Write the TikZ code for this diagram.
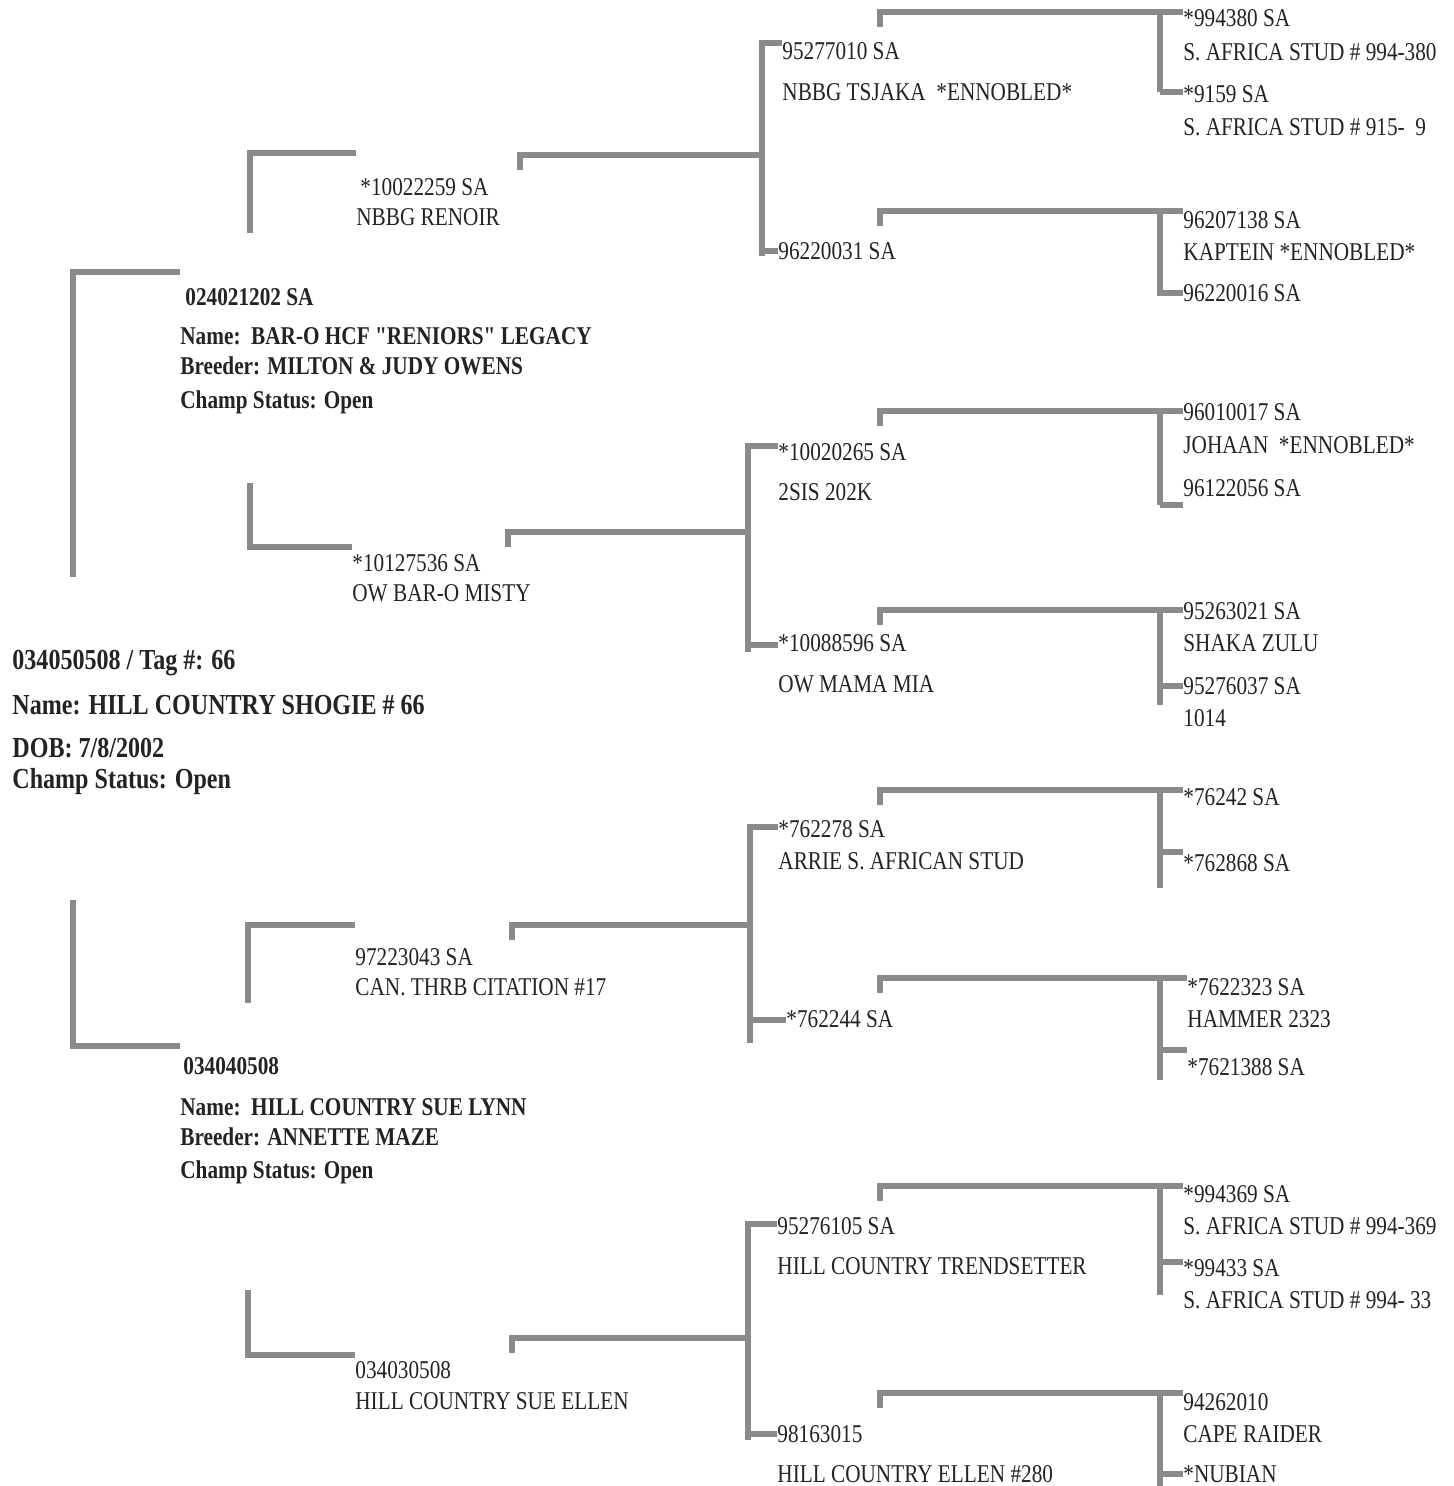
\documentclass[tikz,border=0pt]{standalone}
\usepackage{fontspec}
\setmainfont{Liberation Serif}[FakeStretch=0.83, Ligatures=TeXOff]
\usetikzlibrary{calc}

\definecolor{linegray}{RGB}{138,138,138}
\definecolor{inkgray}{RGB}{35,35,35}

\tikzset{
	line/.style={draw=linegray, line width=2.6pt},
	txt/.style={anchor=west, inner sep=0pt, text=inkgray, text height=8.5pt, text depth=0pt, font=\fontsize{12.8}{15}\selectfont},
	head/.style={txt, font=\fontsize{12.8}{15}\selectfont\bfseries},
	subj/.style={txt, text height=9.6pt, font=\fontsize{14.5}{17}\selectfont\bfseries}
}

\begin{document}
\begin{tikzpicture}[x=0.5pt, y=-0.5pt]

	\useasboundingbox (0,0) rectangle (1453,1486);

	% draw subject
	\node[subj] (s_id) at (12,660) {034050508 / Tag \#: 66};
	\node[subj] (s_name) at (12,705) {Name: HILL COUNTRY SHOGIE \# 66};
	\node[subj] (s_dob) at (12,748) {DOB: 7/8/2002};
	\node[subj] (s_champ) at (12,779) {Champ Status: Open};

	% draw sire and dam
	\node[head] (a_1) at (185,297) {024021202 SA};
	\node[head] (a_1n) at (180,336) {Name:\ \ BAR-O HCF "RENIORS" LEGACY};
	\node[head] (a_1b) at (180,366) {Breeder: MILTON \& JUDY OWENS};
	\node[head] (a_1c) at (180,400) {Champ Status: Open};
	\node[head] (a_2) at (183,1066) {034040508};
	\node[head] (a_2n) at (180,1107) {Name:\ \ HILL COUNTRY SUE LYNN};
	\node[head] (a_2b) at (180,1137) {Breeder: ANNETTE MAZE};
	\node[head] (a_2c) at (180,1170) {Champ Status: Open};

	\coordinate (k_1) at (73,272);
	\coordinate (k_1e) at (73,577);
	\coordinate (k_2) at (73,1046);
	\coordinate (k_2e) at (73,900);
	\draw[line] (k_1 -| a_1n.west) -- (k_1) -- (k_1e);
	\draw[line] (k_2e) -- (k_2) -- (k_2 -| a_2n.west);

	% draw grandparents
	\node[txt] (b_1) at (360,187) {*10022259 SA};
	\node[txt] (b_1n) at (356,217) {NBBG RENOIR};
	\node[txt] (b_2) at (352,563) {*10127536 SA};
	\node[txt] (b_2n) at (352,593) {OW BAR-O MISTY};
	\node[txt] (b_3) at (355,957) {97223043 SA};
	\node[txt] (b_3n) at (355,987) {CAN. THRB CITATION \#17};
	\node[txt] (b_4) at (355,1370) {034030508};
	\node[txt] (b_4n) at (355,1401) {HILL COUNTRY SUE ELLEN};

	\coordinate (m_1) at (250,153);
	\coordinate (m_1e) at (250,233);
	\coordinate (m_2) at (250,547);
	\coordinate (m_2e) at (250,483);
	\coordinate (m_3) at (248,925);
	\coordinate (m_3e) at (248,1003);
	\coordinate (m_4) at (248,1355);
	\coordinate (m_4e) at (248,1290);
	\draw[line] (m_1 -| b_1n.west) -- (m_1) -- (m_1e);
	\draw[line] (m_2e) -- (m_2) -- (m_2 -| b_2.west);
	\draw[line] (m_3 -| b_3.west) -- (m_3) -- (m_3e);
	\draw[line] (m_4e) -- (m_4) -- (m_4 -| b_4.west);

	% draw great-grandparents
	\node[txt] (c_1) at (782,51) {95277010 SA};
	\node[txt] (c_1n) at (782,92) {NBBG TSJAKA\ \ *ENNOBLED*};
	\node[txt] (c_2) at (778,251) {96220031 SA};
	\node[txt] (c_3) at (778,452) {*10020265 SA};
	\node[txt] (c_3n) at (778,492) {2SIS 202K};
	\node[txt] (c_4) at (778,643) {*10088596 SA};
	\node[txt] (c_4n) at (778,684) {OW MAMA MIA};
	\node[txt] (c_5) at (778,829) {*762278 SA};
	\node[txt] (c_5n) at (778,861) {ARRIE S. AFRICAN STUD};
	\node[txt] (c_6) at (786,1019) {*762244 SA};
	\node[txt] (c_7) at (777,1226) {95276105 SA};
	\node[txt] (c_7n) at (777,1266) {HILL COUNTRY TRENDSETTER};
	\node[txt] (c_8) at (777,1434) {98163015};
	\node[txt] (c_8n) at (777,1474) {HILL COUNTRY ELLEN \#280};

	\foreach \k/\hx/\yh/\vx/\yt/\yb/\ye in {1/520/155/762/43/251/256, 2/508/532/748/446/645/652, 3/512/925/750/827/1020/1043, 4/512/1338/748/1224/1434/1440}
	{
		\pgfmathtruncatemacro{\a}{2*\k-1}
		\pgfmathtruncatemacro{\b}{2*\k}
		\coordinate (n_\k) at (\hx,\yh);
		\coordinate (p_\k) at (\vx,\yh);
		\coordinate (pt_\k) at (\vx,\yt);
		\coordinate (pb_\k) at (\vx,\yb);
		\coordinate (pe_\k) at (\vx,\ye);
		\draw[line] (n_\k) ++(0,15) -- (n_\k) -- (p_\k);
		\draw[line] (pt_\k -| c_\a.west) -- (pt_\k) -- (pe_\k);
		\draw[line] (pb_\k) -- (pb_\k -| c_\b.west);
	}

	% draw outer column
	\node[txt] (f_1) at (1183,18) {*994380 SA};
	\node[txt] (f_1n) at (1183,52) {S. AFRICA STUD \# 994-380};
	\node[txt] (f_2) at (1183,94) {*9159 SA};
	\node[txt] (f_2n) at (1183,127) {S. AFRICA STUD \# 915-\ \ 9};
	\node[txt] (f_3) at (1183,220) {96207138 SA};
	\node[txt] (f_3n) at (1183,252) {KAPTEIN *ENNOBLED*};
	\node[txt] (f_4) at (1183,293) {96220016 SA};
	\node[txt] (f_5) at (1183,412) {96010017 SA};
	\node[txt] (f_5n) at (1183,445) {JOHAAN\ \ *ENNOBLED*};
	\node[txt] (f_6) at (1183,488) {96122056 SA};
	\node[txt] (f_7) at (1183,611) {95263021 SA};
	\node[txt] (f_7n) at (1183,643) {SHAKA ZULU};
	\node[txt] (f_8) at (1183,686) {95276037 SA};
	\node[txt] (f_8n) at (1183,718) {1014};
	\node[txt] (f_9) at (1183,797) {*76242 SA};
	\node[txt] (f_10) at (1183,863) {*762868 SA};
	\node[txt] (f_11) at (1187,987) {*7622323 SA};
	\node[txt] (f_11n) at (1187,1019) {HAMMER 2323};
	\node[txt] (f_12) at (1187,1067) {*7621388 SA};
	\node[txt] (f_13) at (1183,1194) {*994369 SA};
	\node[txt] (f_13n) at (1183,1226) {S. AFRICA STUD \# 994-369};
	\node[txt] (f_14) at (1183,1268) {*99433 SA};
	\node[txt] (f_14n) at (1183,1300) {S. AFRICA STUD \# 994- 33};
	\node[txt] (f_15) at (1183,1402) {94262010};
	\node[txt] (f_15n) at (1183,1434) {CAPE RAIDER};
	\node[txt] (f_16) at (1183,1474) {*NUBIAN};

	\foreach \k/\yh/\yt/\ye in {1/12/92/92, 2/211/293/296, 3/411/505/505, 4/610/686/705, 5/790/852/888, 6/978/1050/1080, 7/1186/1262/1295, 8/1393/1474/1486}
	{
		\pgfmathtruncatemacro{\a}{2*\k-1}
		\pgfmathtruncatemacro{\b}{2*\k}
		\coordinate (h_\k) at (880,\yh);
		\coordinate (v_\k) at (1160,\yh);
		\coordinate (vt_\k) at (1160,\yt);
		\coordinate (ve_\k) at (1160,\ye);
		\draw[line] (h_\k) ++(0,15) -- (h_\k) -- (h_\k -| f_\a.west);
		\draw[line] (v_\k) -- (ve_\k);
		\draw[line] (vt_\k) -- (vt_\k -| f_\b.west);
	}

\end{tikzpicture}
\end{document}
